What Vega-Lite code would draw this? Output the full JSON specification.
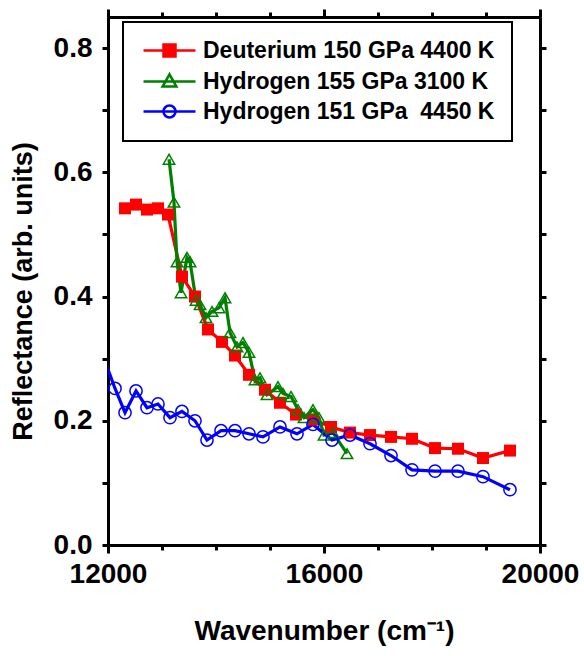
{
  "$schema": "https://vega.github.io/schema/vega-lite/v6.json",
  "width": 432,
  "height": 528,
  "autosize": {"type": "none"},
  "padding": {"left": 108, "top": 17, "right": 44, "bottom": 111},
  "background": "white",
  "config": {
    "view": {"stroke": null},
    "font": "Liberation Sans",
    "axis": {
      "domainColor": "black", "domainWidth": 3, "tickColor": "black", "tickWidth": 3,
      "labelFont": "Liberation Sans", "labelFontWeight": "bold", "labelFontSize": 28, "labelColor": "black",
      "titleFont": "Liberation Sans", "titleFontWeight": "bold", "titleFontSize": 28, "titleColor": "black",
      "grid": false
    }
  },
  "data": {
    "values": [
      {"series": " Deuterium 150 GPa 4400 K", "wn": 12315, "r": 0.542},
      {"series": " Deuterium 150 GPa 4400 K", "wn": 12519, "r": 0.548},
      {"series": " Deuterium 150 GPa 4400 K", "wn": 12722, "r": 0.540},
      {"series": " Deuterium 150 GPa 4400 K", "wn": 12926, "r": 0.542},
      {"series": " Deuterium 150 GPa 4400 K", "wn": 13111, "r": 0.532},
      {"series": " Deuterium 150 GPa 4400 K", "wn": 13370, "r": 0.432},
      {"series": " Deuterium 150 GPa 4400 K", "wn": 13611, "r": 0.400},
      {"series": " Deuterium 150 GPa 4400 K", "wn": 13852, "r": 0.347},
      {"series": " Deuterium 150 GPa 4400 K", "wn": 14111, "r": 0.327},
      {"series": " Deuterium 150 GPa 4400 K", "wn": 14352, "r": 0.305},
      {"series": " Deuterium 150 GPa 4400 K", "wn": 14611, "r": 0.274},
      {"series": " Deuterium 150 GPa 4400 K", "wn": 14907, "r": 0.250},
      {"series": " Deuterium 150 GPa 4400 K", "wn": 15185, "r": 0.229},
      {"series": " Deuterium 150 GPa 4400 K", "wn": 15481, "r": 0.210},
      {"series": " Deuterium 150 GPa 4400 K", "wn": 15796, "r": 0.202},
      {"series": " Deuterium 150 GPa 4400 K", "wn": 16130, "r": 0.190},
      {"series": " Deuterium 150 GPa 4400 K", "wn": 16481, "r": 0.181},
      {"series": " Deuterium 150 GPa 4400 K", "wn": 16852, "r": 0.177},
      {"series": " Deuterium 150 GPa 4400 K", "wn": 17241, "r": 0.174},
      {"series": " Deuterium 150 GPa 4400 K", "wn": 17630, "r": 0.171},
      {"series": " Deuterium 150 GPa 4400 K", "wn": 18056, "r": 0.156},
      {"series": " Deuterium 150 GPa 4400 K", "wn": 18481, "r": 0.155},
      {"series": " Deuterium 150 GPa 4400 K", "wn": 18944, "r": 0.140},
      {"series": " Deuterium 150 GPa 4400 K", "wn": 19444, "r": 0.152},
      {"series": "Hydrogen 155 GPa 3100 K", "wn": 13130, "r": 0.621},
      {"series": "Hydrogen 155 GPa 3100 K", "wn": 13222, "r": 0.552},
      {"series": "Hydrogen 155 GPa 3100 K", "wn": 13278, "r": 0.456},
      {"series": "Hydrogen 155 GPa 3100 K", "wn": 13352, "r": 0.406},
      {"series": "Hydrogen 155 GPa 3100 K", "wn": 13463, "r": 0.463},
      {"series": "Hydrogen 155 GPa 3100 K", "wn": 13519, "r": 0.456},
      {"series": "Hydrogen 155 GPa 3100 K", "wn": 13630, "r": 0.394},
      {"series": "Hydrogen 155 GPa 3100 K", "wn": 13704, "r": 0.387},
      {"series": "Hydrogen 155 GPa 3100 K", "wn": 13815, "r": 0.366},
      {"series": "Hydrogen 155 GPa 3100 K", "wn": 13926, "r": 0.376},
      {"series": "Hydrogen 155 GPa 3100 K", "wn": 14056, "r": 0.382},
      {"series": "Hydrogen 155 GPa 3100 K", "wn": 14167, "r": 0.398},
      {"series": "Hydrogen 155 GPa 3100 K", "wn": 14259, "r": 0.342},
      {"series": "Hydrogen 155 GPa 3100 K", "wn": 14389, "r": 0.319},
      {"series": "Hydrogen 155 GPa 3100 K", "wn": 14500, "r": 0.326},
      {"series": "Hydrogen 155 GPa 3100 K", "wn": 14611, "r": 0.310},
      {"series": "Hydrogen 155 GPa 3100 K", "wn": 14722, "r": 0.266},
      {"series": "Hydrogen 155 GPa 3100 K", "wn": 14815, "r": 0.269},
      {"series": "Hydrogen 155 GPa 3100 K", "wn": 14944, "r": 0.242},
      {"series": "Hydrogen 155 GPa 3100 K", "wn": 15148, "r": 0.255},
      {"series": "Hydrogen 155 GPa 3100 K", "wn": 15241, "r": 0.244},
      {"series": "Hydrogen 155 GPa 3100 K", "wn": 15389, "r": 0.239},
      {"series": "Hydrogen 155 GPa 3100 K", "wn": 15519, "r": 0.218},
      {"series": "Hydrogen 155 GPa 3100 K", "wn": 15630, "r": 0.205},
      {"series": "Hydrogen 155 GPa 3100 K", "wn": 15796, "r": 0.218},
      {"series": "Hydrogen 155 GPa 3100 K", "wn": 15907, "r": 0.205},
      {"series": "Hydrogen 155 GPa 3100 K", "wn": 16000, "r": 0.177},
      {"series": "Hydrogen 155 GPa 3100 K", "wn": 16167, "r": 0.181},
      {"series": "Hydrogen 155 GPa 3100 K", "wn": 16426, "r": 0.147},
      {"series": "Hydrogen 151 GPa  4450 K", "wn": 11800, "r": 0.330},
      {"series": "Hydrogen 151 GPa  4450 K", "wn": 12130, "r": 0.252},
      {"series": "Hydrogen 151 GPa  4450 K", "wn": 12315, "r": 0.213},
      {"series": "Hydrogen 151 GPa  4450 K", "wn": 12519, "r": 0.248},
      {"series": "Hydrogen 151 GPa  4450 K", "wn": 12722, "r": 0.221},
      {"series": "Hydrogen 151 GPa  4450 K", "wn": 12926, "r": 0.227},
      {"series": "Hydrogen 151 GPa  4450 K", "wn": 13148, "r": 0.205},
      {"series": "Hydrogen 151 GPa  4450 K", "wn": 13370, "r": 0.215},
      {"series": "Hydrogen 151 GPa  4450 K", "wn": 13611, "r": 0.200},
      {"series": "Hydrogen 151 GPa  4450 K", "wn": 13833, "r": 0.169},
      {"series": "Hydrogen 151 GPa  4450 K", "wn": 14093, "r": 0.184},
      {"series": "Hydrogen 151 GPa  4450 K", "wn": 14352, "r": 0.184},
      {"series": "Hydrogen 151 GPa  4450 K", "wn": 14611, "r": 0.179},
      {"series": "Hydrogen 151 GPa  4450 K", "wn": 14870, "r": 0.174},
      {"series": "Hydrogen 151 GPa  4450 K", "wn": 15185, "r": 0.190},
      {"series": "Hydrogen 151 GPa  4450 K", "wn": 15500, "r": 0.179},
      {"series": "Hydrogen 151 GPa  4450 K", "wn": 15796, "r": 0.194},
      {"series": "Hydrogen 151 GPa  4450 K", "wn": 16148, "r": 0.169},
      {"series": "Hydrogen 151 GPa  4450 K", "wn": 16481, "r": 0.177},
      {"series": "Hydrogen 151 GPa  4450 K", "wn": 16852, "r": 0.163},
      {"series": "Hydrogen 151 GPa  4450 K", "wn": 17241, "r": 0.144},
      {"series": "Hydrogen 151 GPa  4450 K", "wn": 17630, "r": 0.121},
      {"series": "Hydrogen 151 GPa  4450 K", "wn": 18056, "r": 0.119},
      {"series": "Hydrogen 151 GPa  4450 K", "wn": 18481, "r": 0.119},
      {"series": "Hydrogen 151 GPa  4450 K", "wn": 18944, "r": 0.110},
      {"series": "Hydrogen 151 GPa  4450 K", "wn": 19444, "r": 0.089}
    ]
  },
  "resolve": {"axis": {"x": "independent", "y": "independent"}},
  "layer": [
    {
      "mark": {"type": "line", "strokeWidth": 3.2, "clip": true},
      "encoding": {
        "x": {"field": "wn", "type": "quantitative",
          "scale": {"domain": [12000, 20000], "nice": false, "zero": false},
          "axis": {"orient": "bottom", "values": [12000, 16000, 20000], "format": "d", "tickSize": 8, "labelPadding": 7, "labelFlush": false, "title": "Wavenumber (cm⁻¹)", "titlePadding": 29}},
        "y": {"field": "r", "type": "quantitative",
          "scale": {"domain": [0, 0.85], "nice": false},
          "axis": {"orient": "left", "values": [0, 0.2, 0.4, 0.6, 0.8], "format": ".1f", "tickSize": 6, "labelPadding": 10, "title": "Reflectance (arb. units)", "titleFontSize": 27, "titlePadding": 16, "titleY": 274}},
        "color": {"field": "series", "type": "nominal",
          "scale": {"domain": [" Deuterium 150 GPa 4400 K", "Hydrogen 155 GPa 3100 K", "Hydrogen 151 GPa  4450 K"], "range": ["#ff0000", "#008000", "#0000ff"]},
          "legend": {
            "orient": "none", "legendX": 15, "legendY": 5, "title": null,
            "padding": 17, "rowPadding": 6,
            "symbolSize": 144, "symbolStrokeWidth": 2.5, "symbolOffset": 18, "labelOffset": 22,
            "labelFont": "Liberation Sans", "labelFontWeight": "bold", "labelFontSize": 23, "labelColor": "black", "labelLimit": 400,
            "labelExpr": "datum.value === ' Deuterium 150 GPa 4400 K' ? '\u00a0Deuterium 150 GPa 4400 K' : (datum.value === 'Hydrogen 151 GPa  4450 K' ? 'Hydrogen 151 GPa\u00a0 4450 K' : datum.label)",
            "encode": {
              "legend": {"update": {"stroke": {"value": "black"}, "strokeWidth": {"value": 2}}},
              "symbols": {"update": {
                "shape": {"signal": "datum.value === 'Hydrogen 155 GPa 3100 K' ? 'M-4.33,0H4.33M0,-1.2L1.15,0.85L-1.15,0.85Z' : (datum.value === 'Hydrogen 151 GPa  4450 K' ? 'M-4.33,0H4.33M-1,0A1,1 0 1,0 1,0A1,1 0 1,0 -1,0' : 'M-4.33,0H4.33M-1,-1H1V1H-1Z')"},
                "fill": {"signal": "datum.value === ' Deuterium 150 GPa 4400 K' ? '#ff0000' : 'transparent'"},
                "fillOpacity": {"value": 1},
                "opacity": {"value": 1}
              }}
            }
          }}
      }
    },
    {
      "transform": [{"filter": "datum.series === ' Deuterium 150 GPa 4400 K'"}],
      "mark": {"type": "point", "shape": "square", "filled": true, "color": "#ff0000", "size": 144, "opacity": 1, "clip": true},
      "encoding": {
        "x": {"field": "wn", "type": "quantitative", "axis": {"orient": "bottom", "values": [13000, 14000, 15000, 17000, 18000, 19000], "tickSize": 5, "labels": false, "title": null}},
        "y": {"field": "r", "type": "quantitative", "axis": {"orient": "left", "values": [0.1, 0.3, 0.5, 0.7], "tickSize": 6, "labels": false, "title": null}}
      }
    },
    {
      "transform": [{"filter": "datum.series === 'Hydrogen 155 GPa 3100 K'"}],
      "mark": {"type": "point", "shape": "triangle-up", "filled": false, "color": "#008000", "size": 130, "strokeWidth": 1.5, "opacity": 1, "clip": true},
      "encoding": {
        "x": {"field": "wn", "type": "quantitative", "axis": {"orient": "top", "values": [12000, 16000, 20000], "tickSize": 8, "labels": false, "title": null}},
        "y": {"field": "r", "type": "quantitative", "axis": {"orient": "right", "values": [0, 0.1, 0.2, 0.3, 0.4, 0.5, 0.6, 0.7, 0.8], "tickSize": 6, "labels": false, "title": null}}
      }
    },
    {
      "transform": [{"filter": "datum.series === 'Hydrogen 151 GPa  4450 K'"}],
      "mark": {"type": "point", "shape": "circle", "filled": false, "color": "#0000ff", "size": 150, "strokeWidth": 1.5, "opacity": 1, "clip": true},
      "encoding": {
        "x": {"field": "wn", "type": "quantitative", "axis": {"orient": "top", "values": [13000, 14000, 15000, 17000, 18000, 19000], "tickSize": 5, "labels": false, "title": null}},
        "y": {"field": "r", "type": "quantitative", "axis": null}
      }
    }
  ]
}
